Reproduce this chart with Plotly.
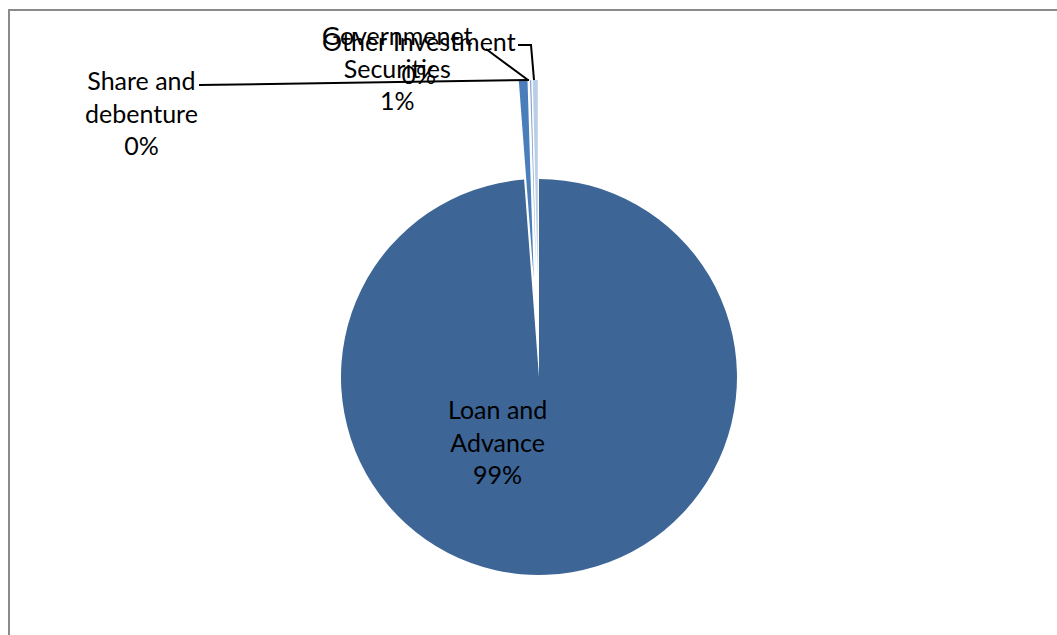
import math
import plotly.graph_objects as go

# Composition of investments (share of total, %)
categories = ["Loan and Advance", "Governmenet Securities", "Share and debenture", "Other Investment"]
shares = [98.8, 0.7, 0.1, 0.4]
colors = ["#3D6596", "#4A7EBB", "#7F9FCF", "#B9CDE5"]

# Wrapped text used for the slice labels
wrapped = {
    "Loan and Advance": "Loan and<br>Advance",
    "Governmenet Securities": "Governmenet<br>Securities",
    "Share and debenture": "Share and<br>debenture",
    "Other Investment": "Other Investment",
}

W, H = 1057, 635
CX, CY, R = 539, 377, 198     # pie centre and radius in pixels
PULL = 0.5                    # exploded distance for the small slices, as fraction of R
FONT = "Lato"


def px(x):
    return x / W


def py(y):
    return 1 - y / H


def domain_at(cx, cy):
    return dict(x=[px(cx - R), px(cx + R)], y=[py(cy + R), py(cy - R)])


fig = go.Figure()

# Main pie: the large slice in place, the small ones leave a white gap
main_colors = [colors[0]] + ["rgba(255,255,255,0)"] * (len(shares) - 1)
fig.add_trace(go.Pie(
    labels=categories, values=shares, sort=False, direction="clockwise", rotation=0,
    marker=dict(colors=main_colors, line=dict(width=0)),
    textinfo="none", hoverinfo="label+percent", domain=domain_at(CX, CY),
))

# Exploded small slices: each one shifted outward along its own bisector
total = sum(shares)
start = 0.0
for i, v in enumerate(shares):
    ang = v / total * 360.0
    if i > 0:
        mid = math.radians(start + ang / 2)
        d = PULL * R
        cx = CX + d * math.sin(mid)
        cy = CY - d * math.cos(mid)
        cols = ["rgba(0,0,0,0)"] * len(shares)
        cols[i] = colors[i]
        fig.add_trace(go.Pie(
            labels=categories, values=shares, sort=False, direction="clockwise", rotation=0,
            marker=dict(colors=cols, line=dict(width=0)),
            textinfo="none", hoverinfo="skip", domain=domain_at(cx, cy),
        ))
    start += ang

# Slice labels: name and rounded percentage
label_pos = {
    "Loan and Advance": (497, 441),
    "Governmenet Securities": (397, 68),
    "Share and debenture": (141, 112),
    "Other Investment": (419, 57),
}
for name, v in zip(categories, shares):
    x, y = label_pos[name]
    pct = round(v / total * 100)
    fig.add_annotation(
        x=px(x), y=py(y), xref="paper", yref="paper",
        text=f"{wrapped[name]}<br>{pct}%", showarrow=False,
        xanchor="center", yanchor="middle",
        font=dict(family=FONT, size=25, color="#000000"),
    )

# Leader lines from labels to the exploded slices
leaders = [
    [(199, 85), (529, 80)],
    [(486, 49), (528, 80)],
    [(518, 45), (531, 45), (534, 80)],
]
shapes = []
for pts in leaders:
    path = "M " + " L ".join(f"{px(x)},{py(y)}" for x, y in pts)
    shapes.append(dict(type="path", xref="paper", yref="paper", path=path,
                       line=dict(color="#000000", width=2)))

# Chart area frame
shapes.append(dict(type="rect", xref="paper", yref="paper",
                   x0=px(9), y0=py(10), x1=px(1070), y1=py(650),
                   line=dict(color="#8A8A8A", width=2), fillcolor="rgba(0,0,0,0)"))

fig.update_layout(
    width=W, height=H, margin=dict(l=0, r=0, t=0, b=0),
    paper_bgcolor="#FFFFFF", plot_bgcolor="#FFFFFF",
    showlegend=False, shapes=shapes,
)

fig.write_html("out.html")
